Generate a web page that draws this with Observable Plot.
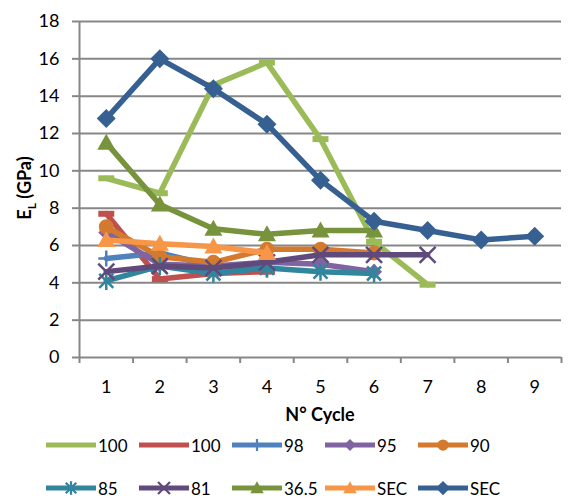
<!DOCTYPE html>
<html><head><meta charset="utf-8">
<script src="https://cdn.jsdelivr.net/npm/d3@7"></script>
<script src="https://cdn.jsdelivr.net/npm/@observablehq/plot@0.6"></script>
<style>
body{margin:0;background:#fff;font-family:Lato,"Open Sans",sans-serif;}
#wrap{width:571px;}
#legend{position:relative;width:571px;height:75px;}
.item{position:absolute;display:flex;align-items:center;font-size:17px;color:#000;height:20px;}
.item svg{display:block;}
</style></head><body>
<div id="wrap"><div id="chart"></div><div id="legend"></div></div>
<script>
// ---- data ----
const cycles = [1, 2, 3, 4, 5, 6, 7, 8, 9];
const yTicks = [0, 2, 4, 6, 8, 10, 12, 14, 16, 18];
const seriesNames = ["100", "100", "98", "95", "90", "85", "81", "36.5", "SEC", "SEC"];
const values100a = [9.6, 8.8, 14.6, 15.8, 11.7, 6.2, 3.9];
const values100b = [7.7, 4.2, 4.5, 4.6];
const values98 = [5.3, 5.6, 4.9, 4.7];
const values95 = [6.7, 5.0, 4.9, 5.1, 5.0, 4.6];
const values90 = [7.0, 5.4, 5.1, 5.8, 5.8, 5.6];
const values85 = [4.1, 4.9, 4.5, 4.8, 4.6, 4.5];
const values81 = [4.6, 4.9, 4.8, 5.1, 5.5, 5.5, 5.5];
const values365 = [11.5, 8.2, 6.9, 6.6, 6.8, 6.8];
const valuesSecA = [6.3, 6.1, 5.95, 5.6];
const valuesSecB = [12.8, 16.0, 14.4, 12.5, 9.5, 7.3, 6.8, 6.3, 6.5];
const seriesValues = [values100a, values100b, values98, values95, values90, values85, values81, values365, valuesSecA, valuesSecB];

// ---- styles ----
const colors = ["#9BBB59", "#C0504D", "#4F81BD", "#8064A2", "#D47A2E", "#31859C", "#604A7B", "#77933C", "#F79646", "#376092"];
const markerKinds = ["dash", "dash", "plus", "diamondS", "circle", "asterisk", "times", "triangle", "triangle", "diamond"];

const symbols = {
  dash: {draw(c) { c.rect(-8, -3, 16, 6); }},
  plus: {draw(c) { c.moveTo(0, -8); c.lineTo(0, 8); c.moveTo(-8, 0); c.lineTo(8, 0); }},
  diamond: {draw(c) { c.moveTo(0, -9.5); c.lineTo(9.5, 0); c.lineTo(0, 9.5); c.lineTo(-9.5, 0); c.closePath(); }},
  diamondS: {draw(c) { c.moveTo(0, -8); c.lineTo(8, 0); c.lineTo(0, 8); c.lineTo(-8, 0); c.closePath(); }},
  circle: {draw(c) { c.moveTo(7.5, 0); c.arc(0, 0, 7.5, 0, 2 * Math.PI); c.closePath(); }},
  triangle: {draw(c) { c.moveTo(0, -9); c.lineTo(9, 7); c.lineTo(-9, 7); c.closePath(); }},
  times: {draw(c) { c.moveTo(-8, -8); c.lineTo(8, 8); c.moveTo(8, -8); c.lineTo(-8, 8); }},
  asterisk: {draw(c) { c.moveTo(-7, -7); c.lineTo(7, 7); c.moveTo(7, -7); c.lineTo(-7, 7); c.moveTo(0, -9); c.lineTo(0, 9); }}
};
const strokedKinds = new Set(["plus", "times", "asterisk"]);

const gray = "#878787";
const bounds = d3.range(0.5, 10, 1);

const marks = [
  Plot.ruleY(yTicks, {stroke: gray, strokeWidth: 2}),
  Plot.ruleX([0.5], {stroke: gray, strokeWidth: 2}),
  Plot.axisY({ticks: yTicks, tickSize: 7, tickPadding: 13, stroke: gray, strokeWidth: 2, fill: "#000", fontSize: 18, label: null}),
  Plot.axisX({ticks: bounds, tickSize: 6, stroke: gray, strokeWidth: 2, tickFormat: () => "", label: null}),
  Plot.axisX({ticks: cycles, tickSize: 0, tickPadding: 23, fill: "#000", fontSize: 18, label: null})
];

seriesValues.forEach((vals, i) => {
  const data = vals.map((v, j) => ({cycle: cycles[j], value: v}));
  marks.push(Plot.line(data, {x: "cycle", y: "value", stroke: colors[i], strokeWidth: 5.5, strokeLinejoin: "round"}));
  const kind = markerKinds[i];
  const stroked = strokedKinds.has(kind);
  marks.push(Plot.dot(data, {
    x: "cycle", y: "value", r: 8, symbol: symbols[kind],
    fill: stroked ? "none" : colors[i],
    stroke: stroked ? colors[i] : "none",
    strokeWidth: stroked ? 2.5 : 0
  }));
});

const chart = Plot.plot({
  width: 571,
  height: 425,
  marginLeft: 79,
  marginRight: 10,
  marginTop: 21,
  marginBottom: 68,
  style: {fontFamily: "Lato, 'Open Sans', sans-serif", fontSize: "18px", color: "#000", background: "#fff"},
  x: {type: "linear", domain: [0.5, 9.5]},
  y: {domain: [0, 18]},
  marks
});

// axis titles
const svg = d3.select(chart);
svg.append("text")
  .attr("x", 320).attr("y", 421)
  .attr("text-anchor", "middle")
  .attr("font-weight", "bold").attr("font-size", 18).attr("fill", "#000")
  .text("N° Cycle");
const yt = svg.append("text")
  .attr("transform", "translate(31,188) rotate(-90)")
  .attr("text-anchor", "middle")
  .attr("font-weight", "bold").attr("font-size", 18).attr("fill", "#000");
yt.append("tspan").text("E");
yt.append("tspan").attr("font-size", 12).attr("dy", 5).text("L");
yt.append("tspan").attr("dy", -5).text(" (GPa)");

document.getElementById("chart").appendChild(chart);

// legend
const legend = d3.select("#legend");
seriesNames.forEach((name, i) => {
  const col = i % 5, row = Math.floor(i / 5);
  const item = legend.append("div").attr("class", "item")
    .style("left", (45 + col * 93) + "px")
    .style("top", (row === 0 ? 10 : 53) + "px");
  const s = item.append("svg").attr("width", 52).attr("height", 20);
  s.append("line").attr("x1", 1).attr("x2", 51).attr("y1", 10).attr("y2", 10)
    .attr("stroke", colors[i]).attr("stroke-width", 5);
  const kind = markerKinds[i];
  if (kind !== "dash") {
    const stroked = strokedKinds.has(kind);
    s.append("path").attr("transform", "translate(26,10) scale(0.75)")
      .attr("d", d3.symbol(symbols[kind])())
      .attr("fill", stroked ? "none" : colors[i])
      .attr("stroke", stroked ? colors[i] : "none")
      .attr("stroke-width", stroked ? 3 : 0);
  }
  item.append("span").style("margin-left", "1px").text(name);
});
</script>
</body></html>
